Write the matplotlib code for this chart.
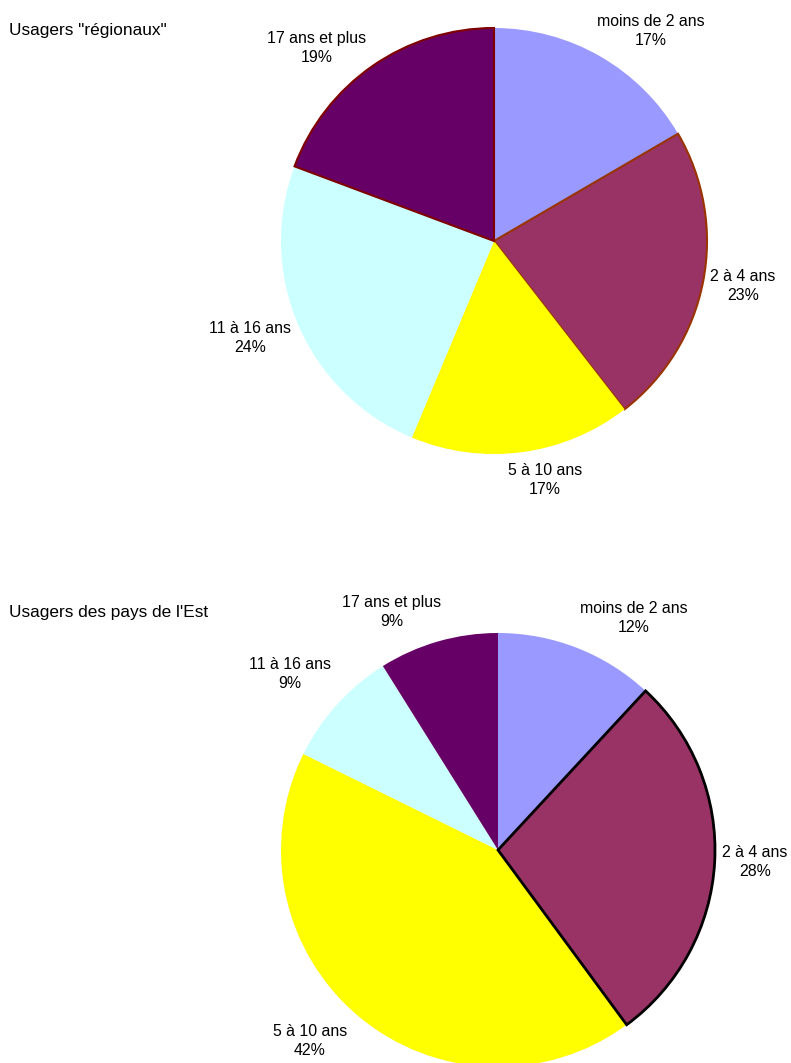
import matplotlib.pyplot as plt

plt.rcParams['font.family'] = ['Liberation Sans', 'DejaVu Sans']

categories = ["moins de 2 ans", "2 à 4 ans", "5 à 10 ans", "11 à 16 ans", "17 ans et plus"]
regionaux = [16.6, 22.9, 16.8, 24.4, 19.3]
est = [11.9, 28.0, 42.4, 8.8, 8.9]
colors = ["#9999FF", "#993366", "#FFFF00", "#CCFFFF", "#660066"]

W, H = 791, 1063
fig = plt.figure(figsize=(W / 100, H / 100), dpi=100)
ax = fig.add_axes([0, 0, 1, 1])

# pie 1 : usagers régionaux
w1, _ = ax.pie(regionaux, colors=colors, startangle=90, counterclock=False,
               center=(494, H - 241), radius=213, frame=True)
w1[1].set_edgecolor("#993300"); w1[1].set_linewidth(1.5)
w1[4].set_edgecolor("#800000"); w1[4].set_linewidth(1.5)

# pie 2 : pays de l'Est
w2, _ = ax.pie(est, colors=colors, startangle=90, counterclock=False,
               center=(498, H - 850), radius=217, frame=True)
w2[1].set_edgecolor("black"); w2[1].set_linewidth(2)
w2[1].set_zorder(3)

ax.set_xlim(0, W)
ax.set_ylim(0, H)
ax.set_aspect('equal')
ax.axis('off')

# label centres in pixels (x, y from top)
pos1 = [(651, 31), (743, 286), (545, 480), (250, 338), (317, 48)]
pos2 = [(634, 618), (755, 862), (310, 1041), (290, 674), (392, 612)]

for cat, v, (x, y) in zip(categories, regionaux, pos1):
    ax.text(x, H - y, f"{cat}\n{v:.0f}%", ha='center', va='center', fontsize=11.4, linespacing=1.4)
for cat, v, (x, y) in zip(categories, est, pos2):
    ax.text(x, H - y, f"{cat}\n{v:.0f}%", ha='center', va='center', fontsize=11.4, linespacing=1.4)

ax.text(9, H - 31, 'Usagers "régionaux"', ha='left', va='center', fontsize=12.4)
ax.text(9, H - 612, "Usagers des pays de l'Est", ha='left', va='center', fontsize=12.4)

fig.savefig("out.png", dpi=100)
